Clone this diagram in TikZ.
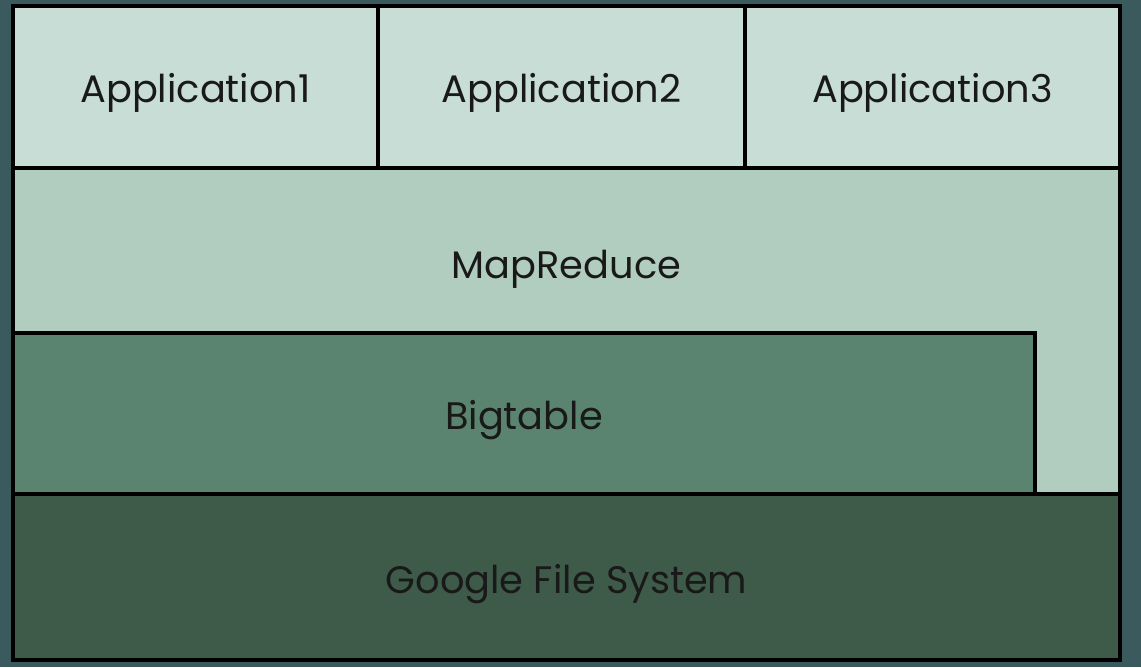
\documentclass[tikz,border=0pt]{standalone}
\usepackage{fontspec}
\setmainfont{Poppins}
\usepackage{tikz}
\definecolor{slatebg}{HTML}{3A5A5E}
\definecolor{appfill}{HTML}{C8DDD5}
\definecolor{mrfill}{HTML}{B0CDBF}
\definecolor{btfill}{HTML}{5A8470}
\definecolor{gfsfill}{HTML}{3E5B4A}
\tikzset{layer/.style={draw=black, line width=0.9pt}}
\tikzset{label/.style={font=\fontsize{10.9}{13}\selectfont, text=black!90}}

\begin{document}
\begin{tikzpicture}
            \fill[slatebg] (0, 0) rectangle (11.41, 6.67);
            \useasboundingbox (0, 0) rectangle (11.41, 6.67);
            % MapReduce runs down beside Bigtable
            \filldraw[layer, fill=mrfill] (0.13, 1.73) rectangle (11.20, 4.99);
            \filldraw[layer, fill=btfill] (0.13, 1.73) rectangle (10.35, 3.34);
            \filldraw[layer, fill=gfsfill] (0.13, 0.07) rectangle (11.20, 1.73);
            \filldraw[layer, fill=appfill] (0.13, 4.99) rectangle (3.78, 6.61);
            \filldraw[layer, fill=appfill] (3.78, 4.99) rectangle (7.45, 6.61);
            \filldraw[layer, fill=appfill] (7.45, 4.99) rectangle (11.20, 6.61);
            \node[label] (app1) at (1.955, 5.74) {Application1};
            \node[label] (app2) at (5.615, 5.74) {Application2};
            \node[label] (app3) at (9.325, 5.74) {Application3};
            \node[label] (mapreduce) at (5.665, 3.98) {MapReduce};
            \node[label] (bigtable) at (5.24, 2.47) {Bigtable};
            \node[label] (gfs) at (5.665, 0.83) {Google File System};
        \end{tikzpicture}
\end{document}
